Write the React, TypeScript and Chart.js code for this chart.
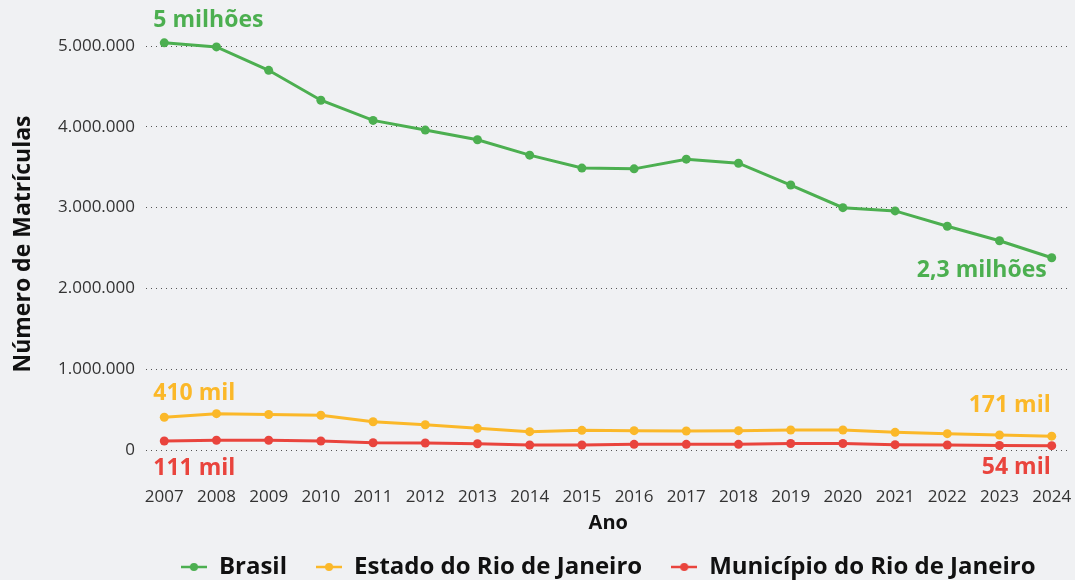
import React, { useEffect, useRef } from "react";
import { Chart, registerables } from "chart.js";

Chart.register(...registerables);

const years = [2007, 2008, 2009, 2010, 2011, 2012, 2013, 2014, 2015, 2016, 2017, 2018, 2019, 2020, 2021, 2022, 2023, 2024];
const brasilValues = [5040000, 4990000, 4700000, 4330000, 4080000, 3960000, 3840000, 3650000, 3490000, 3480000, 3600000, 3550000, 3280000, 3000000, 2960000, 2770000, 2590000, 2380000];
const estadoValues = [405000, 450000, 440000, 430000, 350000, 313000, 268000, 227000, 243000, 239000, 235000, 239000, 248000, 248000, 219000, 202000, 186000, 171000];
const municipioValues = [111000, 120000, 120000, 111000, 90000, 87000, 78000, 62000, 62000, 70000, 70000, 70000, 80000, 80000, 66000, 62000, 55000, 54000];
const yTicks = [0, 1000000, 2000000, 3000000, 4000000, 5000000];
const seriesNames = ["Brasil", "Estado do Rio de Janeiro", "Município do Rio de Janeiro"];
const annotationTexts = ["5 milhões", "2,3 milhões", "410 mil", "171 mil", "111 mil", "54 mil"];

const GREEN = "#4caf50";
const YELLOW = "#fbb829";
const RED = "#e9443d";
const BG = "#f0f1f3";
const FONT = "'Open Sans', 'Noto Sans', sans-serif";

// style table for annotation placement: [dataset, point, align, dx, dy]
const annotationPlacement: [number, number, CanvasTextAlign, number, number][] = [
  [0, 0, "left", -11, -22],
  [0, 17, "right", -5, 13],
  [1, 0, "left", -11, -24],
  [1, 17, "right", -1, -31],
  [2, 0, "left", -11, 27],
  [2, 17, "right", -1, 22],
];

function fmt(v: number): string {
  return String(v).replace(/\B(?=(\d{3})+(?!\d))/g, ".");
}

function makeIcon(color: string): HTMLCanvasElement {
  const c = document.createElement("canvas");
  c.width = 26;
  c.height = 10;
  const ctx = c.getContext("2d")!;
  ctx.strokeStyle = color;
  ctx.lineWidth = 2.5;
  ctx.beginPath();
  ctx.moveTo(0, 5);
  ctx.lineTo(26, 5);
  ctx.stroke();
  ctx.fillStyle = color;
  ctx.beginPath();
  ctx.arc(13, 5, 4, 0, Math.PI * 2);
  ctx.fill();
  return c;
}

const annotationPlugin = {
  id: "endLabels",
  afterDatasetsDraw(chart: any) {
    const ctx = chart.ctx;
    ctx.save();
    ctx.font = `bold 23px ${FONT}`;
    ctx.textBaseline = "middle";
    annotationPlacement.forEach(([ds, idx, align, dx, dy], i) => {
      const el = chart.getDatasetMeta(ds).data[idx];
      if (!el) return;
      ctx.fillStyle = chart.data.datasets[ds].borderColor;
      ctx.textAlign = align;
      ctx.fillText(annotationTexts[i], el.x + dx, el.y + dy);
    });
    ctx.restore();
  },
};

const legendPlacement = {
  id: "legendPlacement",
  afterLayout(chart: any) {
    const lg = chart.legend;
    const ca = chart.chartArea;
    if (!lg) return;
    lg.left = ca.left;
    lg.right = ca.right;
    lg.top += 9;
    lg.bottom += 9;
  },
};

export default function App() {
  const ref = useRef<HTMLCanvasElement>(null);
  useEffect(() => {
    document.body.style.margin = "0";
    document.body.style.background = BG;
    const colors = [GREEN, YELLOW, RED];
    const icons = colors.map(makeIcon);
    const seriesValues = [brasilValues, estadoValues, municipioValues];
    const chart = new Chart(ref.current!, {
      type: "line",
      data: {
        datasets: seriesValues.map((vals, i) => ({
          label: seriesNames[i],
          data: vals.map((v, j) => ({ x: years[j], y: v })),
          borderColor: colors[i],
          backgroundColor: colors[i],
          pointBackgroundColor: colors[i],
          pointBorderWidth: 0,
          pointRadius: 4.5,
          borderWidth: 3,
          tension: 0,
        })),
      },
      options: {
        animation: false,
        responsive: false,
        layout: { padding: { top: 38, right: 2, left: 0, bottom: 0 } },
        plugins: {
          tooltip: { enabled: false },
          legend: {
            position: "bottom",
            labels: {
              usePointStyle: true,
              pointStyleWidth: 26,
              padding: 29,
              color: "#111",
              font: { family: FONT, size: 24, weight: "bold" },
              generateLabels: (c: any) =>
                Chart.defaults.plugins.legend.labels.generateLabels(c).map((l: any, i: number) => ({
                  ...l,
                  pointStyle: icons[i],
                })),
            },
          },
        },
        scales: {
          x: {
            type: "linear",
            min: 2006.65,
            max: 2024.36,
            grid: { display: false },
            border: { display: false },
            afterBuildTicks: (s: any) => {
              s.ticks = years.map((y) => ({ value: y }));
            },
            afterFit: (s: any) => {
              const lg = s.chart.legend;
              s.height = s.chart.height - 450 - (lg ? lg.height : 0);
              s.paddingLeft = 0;
              s.paddingRight = 0;
            },
            ticks: {
              padding: 29,
              color: "#333",
              font: { family: FONT, size: 17 },
              maxRotation: 0,
              autoSkip: false,
              callback: (v: any) => String(v),
            },
            title: {
              display: true,
              text: "Ano",
              color: "#111",
              font: { family: FONT, size: 20, weight: "bold" },
              padding: { top: 0, bottom: -18 },
            },
          },
          y: {
            min: 0,
            max: 5100000,
            afterBuildTicks: (s: any) => {
              s.ticks = yTicks.map((v) => ({ value: v }));
            },
            afterFit: (s: any) => {
              s.width = 146;
            },
            grid: { color: "#555", lineWidth: 1, drawTicks: false },
            border: { display: false, dash: [1, 4] },
            ticks: {
              padding: 11,
              color: "#333",
              font: { family: FONT, size: 17 },
              callback: (v: any) => fmt(Number(v)),
            },
            title: {
              display: true,
              text: "Número de Matrículas",
              color: "#111",
              font: { family: FONT, size: 23, weight: "bold" },
              padding: { top: 10, bottom: 0 },
            },
          },
        },
      },
      plugins: [annotationPlugin, legendPlacement],
    } as any);
    return () => chart.destroy();
  }, []);
  return (
    <div style={{ width: 1075, height: 580, background: BG }}>
      <canvas ref={ref} width={1075} height={580} style={{ display: "block" }} />
    </div>
  );
}
